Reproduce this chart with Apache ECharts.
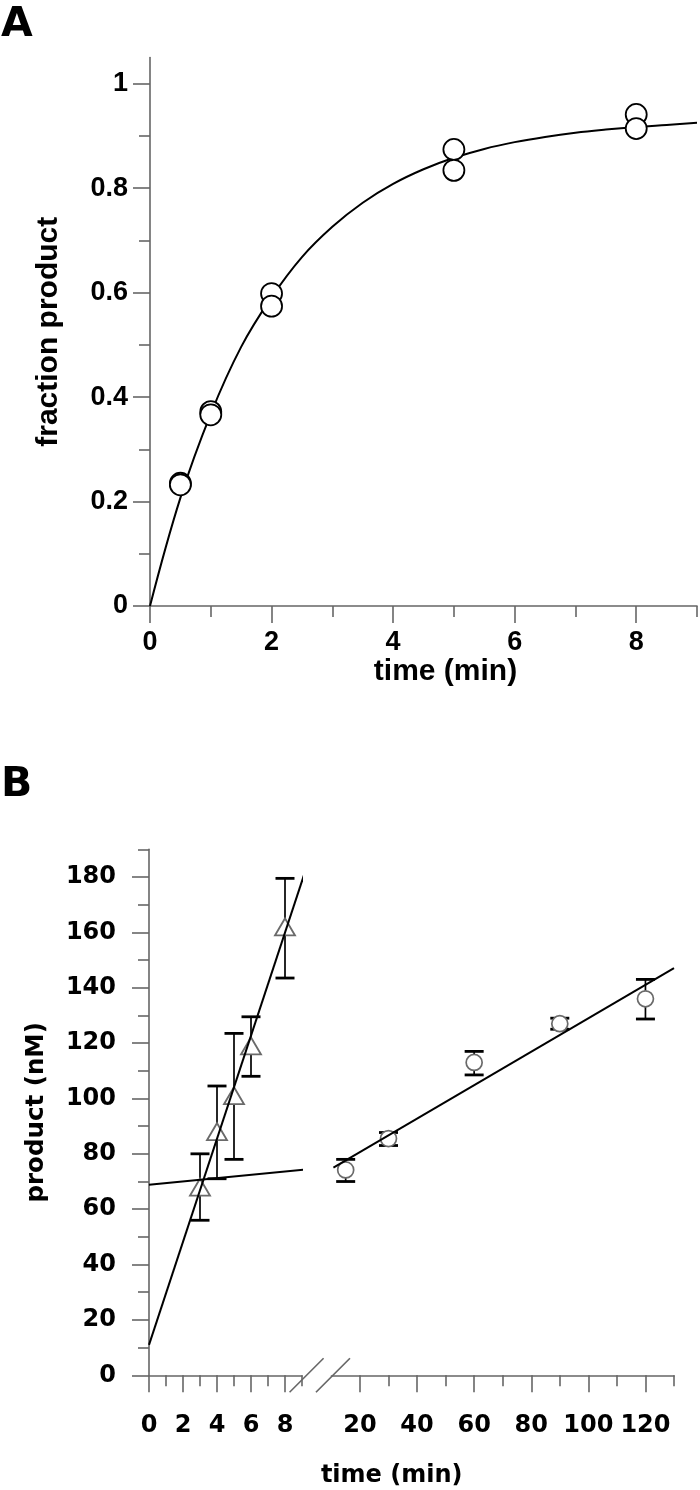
<!DOCTYPE html>
<html><head><meta charset="utf-8">
<script src="https://cdn.jsdelivr.net/npm/echarts@6/dist/echarts.min.js"></script>
<style>html,body{margin:0;padding:0;background:#fff}#c{width:700px;height:1490px}</style>
</head><body><div id="c"></div>
<script>
// ---------- Panel A data ----------
const aTime = [0.5, 0.5, 1, 1, 2, 2, 5, 5, 8, 8];
const aFraction = [0.235, 0.232, 0.372, 0.366, 0.598, 0.574, 0.874, 0.834, 0.941, 0.914];
const aFitTime = [0, 0.5, 1, 1.5, 2, 2.5, 3, 3.5, 4, 4.5, 5, 5.5, 6, 6.5, 7, 7.5, 8, 8.5, 9];
const aFitValue = [0, 0.207, 0.368, 0.496, 0.591, 0.668, 0.726, 0.772, 0.808, 0.836, 0.858, 0.875, 0.888, 0.898, 0.906, 0.912, 0.917, 0.921, 0.925];
const aXTicks = [0, 2, 4, 6, 8];
const aXMinor = [1, 3, 5, 7, 9];
const aYTicks = [0, 0.2, 0.4, 0.6, 0.8, 1];
const aYMinor = [0.1, 0.3, 0.5, 0.7, 0.9];

// ---------- Panel B data ----------
const bTriTime = [3, 4, 5, 6, 8];
const bTriMean = [68, 88, 101, 119, 162];
const bTriLow = [56, 71, 78, 108, 143.5];
const bTriHigh = [80, 104.5, 123.5, 129.5, 179.5];
const bCircTime = [15, 30, 60, 90, 120];
const bCircMean = [74.2, 85.5, 113, 127, 136];
const bCircLow = [70, 83, 108.5, 125, 128.7];
const bCircHigh = [78, 87.7, 117, 129, 143];
const bSteepTime = [0, 9.24];
const bSteepValue = [11, 183];
const bSlowLeftTime = [0, 9.24];
const bSlowLeftValue = [68.8, 74.4];
const bSlowRightTime = [10.7, 130];
const bSlowRightValue = [75, 147.1];
const bXLeftTicks = [0, 2, 4, 6, 8];
const bXLeftMinor = [1, 3, 5, 7, 9];
const bXRightTicks = [20, 40, 60, 80, 100, 120];
const bXRightMinor = [30, 50, 70, 90, 110, 130];
const bYTicks = [0, 20, 40, 60, 80, 100, 120, 140, 160, 180];
const bYMinor = [10, 30, 50, 70, 90, 110, 130, 150, 170, 190];

// ---------- styling ----------
const FA = "'Liberation Sans',Arial,sans-serif";
const FB = "'DejaVu Sans','Liberation Sans',sans-serif";
const AX = '#666';
const AXW = 1.6;

const zip = (xs, ys) => xs.map((x, i) => [x, ys[i]]);
const zip3 = (xs, a, b) => xs.map((x, i) => [x, a[i], b[i]]);

function mainAxis(o) {
  return Object.assign({
    type: 'value', position: o.pos, splitLine: { show: false },
    axisLine: { show: true, onZero: false, lineStyle: { color: AX, width: AXW } },
    axisTick: { show: true, customValues: o.ticks, length: 17, lineStyle: { color: AX, width: AXW } },
    axisLabel: { show: true, customValues: o.ticks, margin: o.margin, color: '#000', fontWeight: 'bold', fontFamily: o.font, fontSize: o.fs },
  }, o.extra || {});
}
function minorAxis(o) {
  return Object.assign({
    type: 'value', position: o.pos, splitLine: { show: false },
    axisLine: { show: false, onZero: false },
    axisTick: { show: true, customValues: o.ticks, length: 11, lineStyle: { color: AX, width: AXW } },
    axisLabel: { show: false },
  }, o.extra || {});
}

function errorBar(params, api) {
  const x = api.value(0), lo = api.value(1), hi = api.value(2);
  const pLo = api.coord([x, lo]), pHi = api.coord([x, hi]);
  const hw = 9.5;
  const st = { stroke: '#000', lineWidth: 1.7 };
  const cap = { stroke: '#000', lineWidth: 2.8 };
  return { type: 'group', children: [
    { type: 'line', shape: { x1: pLo[0], y1: pLo[1], x2: pHi[0], y2: pHi[1] }, style: st },
    { type: 'line', shape: { x1: pLo[0] - hw, y1: pLo[1], x2: pLo[0] + hw, y2: pLo[1] }, style: cap },
    { type: 'line', shape: { x1: pHi[0] - hw, y1: pHi[1], x2: pHi[0] + hw, y2: pHi[1] }, style: cap },
  ]};
}

const chart = echarts.init(document.getElementById('c'), null, { renderer: 'canvas' });

const option = {
  backgroundColor: '#fff',
  animation: false,
  title: [
    { text: 'A', left: 1, top: 5, padding: 0, textStyle: { fontFamily: FB, fontWeight: 'bold', fontSize: 41, color: '#000' } },
    { text: 'B', left: 1, top: 765, padding: 0, textStyle: { fontFamily: FB, fontWeight: 'bold', fontSize: 41, color: '#000' } },
  ],
  grid: [
    { left: 150, top: 57.5, width: 547, height: 548.5, containLabel: false },
    { left: 149, top: 849.3, width: 153, height: 526, containLabel: false },
    { left: 331.4, top: 849.3, width: 342.6, height: 526, containLabel: false },
  ],
  xAxis: [
    mainAxis({ pos: 'bottom', ticks: aXTicks, margin: 23, font: FA, fs: 27, extra: {
      gridIndex: 0, min: 0, max: 9, interval: 1,
      name: 'time (min)', nameLocation: 'middle', nameGap: 43,
      nameTextStyle: { fontFamily: FA, fontWeight: 'bold', fontSize: 30, color: '#000', padding: [0, 0, 0, 44] } } }),
    minorAxis({ pos: 'bottom', ticks: aXMinor, extra: { gridIndex: 0, min: 0, max: 9, interval: 1 } }),
    mainAxis({ pos: 'bottom', ticks: bXLeftTicks, margin: 38, font: FB, fs: 24, extra: { gridIndex: 1, min: 0, max: 9, interval: 1 } }),
    minorAxis({ pos: 'bottom', ticks: bXLeftMinor, extra: { gridIndex: 1, min: 0, max: 9, interval: 1 } }),
    mainAxis({ pos: 'bottom', ticks: bXRightTicks, margin: 38, font: FB, fs: 24, extra: {
      gridIndex: 2, min: 10, max: 130, interval: 10,
      name: 'time (min)', nameLocation: 'middle', nameGap: 88,
      nameTextStyle: { fontFamily: FB, fontWeight: 'bold', fontSize: 24, color: '#000', padding: [0, 222, 0, 0] } } }),
    minorAxis({ pos: 'bottom', ticks: bXRightMinor, extra: { gridIndex: 2, min: 10, max: 130, interval: 10 } }),
  ],
  yAxis: [
    mainAxis({ pos: 'left', ticks: aYTicks, margin: 22, font: FA, fs: 27, extra: {
      gridIndex: 0, min: 0, max: 1.05, interval: 0.05,
      name: 'fraction product', nameLocation: 'middle', nameGap: 86,
      nameTextStyle: { fontFamily: FA, fontWeight: 'bold', fontSize: 30, color: '#000' } } }),
    minorAxis({ pos: 'left', ticks: aYMinor, extra: { gridIndex: 0, min: 0, max: 1.05, interval: 0.05 } }),
    mainAxis({ pos: 'left', ticks: bYTicks, margin: 33, font: FB, fs: 24, extra: {
      gridIndex: 1, min: 0, max: 190, interval: 10,
      name: 'product (nM)', nameLocation: 'middle', nameGap: 100,
      nameTextStyle: { fontFamily: FB, fontWeight: 'bold', fontSize: 24.5, color: '#000' } } }),
    minorAxis({ pos: 'left', ticks: bYMinor, extra: { gridIndex: 1, min: 0, max: 190, interval: 10 } }),
    { type: 'value', gridIndex: 2, min: 0, max: 190, interval: 10, show: false },
  ],
  series: [
    // Panel A
    { type: 'line', xAxisIndex: 0, yAxisIndex: 0, data: zip(aFitTime, aFitValue), smooth: 0.4, showSymbol: false,
      lineStyle: { color: '#000', width: 2 }, z: 2, silent: true },
    { type: 'scatter', xAxisIndex: 0, yAxisIndex: 0, data: zip(aTime, aFraction), symbol: 'circle', symbolSize: 21,
      itemStyle: { color: '#fff', borderColor: '#000', borderWidth: 1.8, opacity: 1 }, z: 3 },
    // Panel B error bars
    { type: 'custom', xAxisIndex: 2, yAxisIndex: 2, data: zip3(bTriTime, bTriLow, bTriHigh), renderItem: errorBar, z: 2, clip: false },
    { type: 'custom', xAxisIndex: 4, yAxisIndex: 4, data: zip3(bCircTime, bCircLow, bCircHigh), renderItem: errorBar, z: 2, clip: false },
    // Panel B markers
    { type: 'scatter', xAxisIndex: 2, yAxisIndex: 2, data: zip(bTriTime, bTriMean), symbol: 'triangle', symbolSize: [20, 17],
      itemStyle: { color: '#fff', borderColor: '#6a6a6a', borderWidth: 1.8, opacity: 1 }, z: 3, clip: false },
    { type: 'scatter', xAxisIndex: 4, yAxisIndex: 4, data: zip(bCircTime, bCircMean), symbol: 'circle', symbolSize: 16,
      itemStyle: { color: '#fff', borderColor: '#6a6a6a', borderWidth: 1.7, opacity: 1 }, z: 3, clip: false },
    // Panel B fit lines
    { type: 'line', xAxisIndex: 2, yAxisIndex: 2, data: zip(bSteepTime, bSteepValue), showSymbol: false, clip: false,
      lineStyle: { color: '#000', width: 2 }, z: 4, silent: true },
    { type: 'line', xAxisIndex: 2, yAxisIndex: 2, data: zip(bSlowLeftTime, bSlowLeftValue), showSymbol: false, clip: false,
      lineStyle: { color: '#000', width: 2 }, z: 4, silent: true },
    { type: 'line', xAxisIndex: 4, yAxisIndex: 4, data: zip(bSlowRightTime, bSlowRightValue), showSymbol: false, clip: false,
      lineStyle: { color: '#000', width: 2 }, z: 4, silent: true },
  ],
};
chart.setOption(option);

// axis-break slashes, placed through the axes' own scales
const s1 = chart.convertToPixel({ xAxisIndex: 2, yAxisIndex: 2 }, [9.27, 0]);
const s2 = chart.convertToPixel({ xAxisIndex: 4, yAxisIndex: 4 }, [10.55, 0]);
const d = 17;
chart.setOption({
  graphic: [s1, s2].map(p => ({
    type: 'line', shape: { x1: p[0] - d, y1: p[1] + d, x2: p[0] + d, y2: p[1] - d },
    style: { stroke: AX, lineWidth: AXW }, z: 10
  }))
});
</script></body></html>
